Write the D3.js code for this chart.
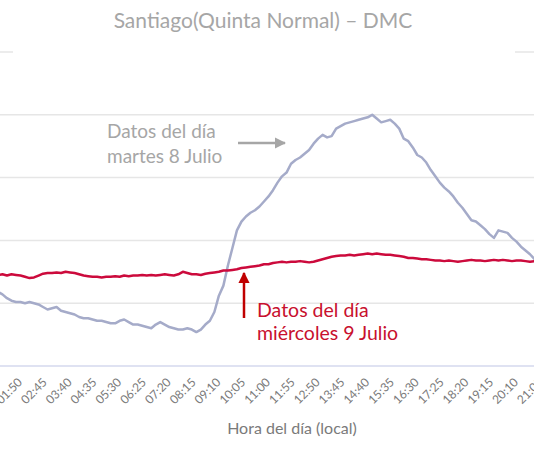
<!DOCTYPE html>
<html>
<head>
<meta charset="utf-8">
<script src="https://cdn.jsdelivr.net/npm/d3@7"></script>
<style>
  body { margin: 0; background: #fff; }
  svg { display: block; font-family: Lato, "Open Sans", sans-serif; }
</style>
</head>
<body>
<svg width="534" height="458"></svg>
<script>
// 10-minute samples starting at 00:00
const stepMin = 10;

const martes8 = [
    6.3, 6.2, 6.2, 6.0, 6.0, 5.9, 5.7, 5.4, 5.2, 5.1,
    5.1, 5.0, 5.1, 5.0, 4.9, 4.7, 4.5, 4.6, 4.7, 4.4,
    4.3, 4.2, 4.1, 3.9, 3.8, 3.8, 3.7, 3.6, 3.6, 3.5,
    3.4, 3.4, 3.6, 3.7, 3.5, 3.3, 3.3, 3.2, 3.1, 3.0,
    3.3, 3.5, 3.3, 3.1, 3.0, 2.9, 2.9, 3.0, 2.9, 2.7,
    2.9, 3.3, 3.6, 4.3, 5.6, 6.4, 8.0, 9.4, 10.8, 11.5,
    11.9, 12.2, 12.4, 12.7, 13.1, 13.5, 14.0, 14.6, 15.1, 15.4,
    16.1, 16.4, 16.6, 16.9, 17.2, 17.7, 18.1, 18.4, 18.2, 18.3,
    18.9, 19.1, 19.3, 19.4, 19.5, 19.6, 19.7, 19.8, 20.0, 19.7,
    19.4, 19.5, 19.6, 19.3, 18.9, 18.1, 17.9, 17.4, 16.8, 16.6,
    16.2, 15.6, 15.1, 14.6, 14.2, 13.9, 13.5, 13.0, 12.6, 12.1,
    11.6, 11.5, 11.2, 10.9, 10.5, 10.2, 10.8, 10.7, 10.6, 10.2,
    9.9, 9.5, 9.2, 8.9, 8.5, 8.2, 7.9, 7.7, 7.5
];

const miercoles9 = [
    7.3, 7.3, 7.2, 7.3, 7.2, 7.25, 7.3, 7.2, 7.3, 7.25,
    7.2, 7.1, 7.0, 7.05, 7.2, 7.35, 7.4, 7.4, 7.45, 7.4,
    7.5, 7.45, 7.4, 7.3, 7.2, 7.15, 7.1, 7.1, 7.05, 7.1,
    7.1, 7.15, 7.1, 7.2, 7.15, 7.2, 7.2, 7.25, 7.2, 7.25,
    7.2, 7.25, 7.3, 7.25, 7.2, 7.3, 7.5, 7.4, 7.3, 7.3,
    7.25, 7.35, 7.4, 7.45, 7.5, 7.6, 7.6, 7.65, 7.7, 7.8,
    7.85, 7.9, 7.95, 8.0, 8.1, 8.1, 8.2, 8.25, 8.3, 8.25,
    8.3, 8.3, 8.35, 8.3, 8.25, 8.3, 8.4, 8.5, 8.6, 8.7,
    8.75, 8.8, 8.8, 8.85, 8.8, 8.85, 8.9, 8.95, 8.9, 8.95,
    8.9, 8.85, 8.85, 8.8, 8.75, 8.7, 8.6, 8.6, 8.55, 8.5,
    8.5, 8.45, 8.4, 8.4, 8.35, 8.4, 8.35, 8.3, 8.35, 8.4,
    8.45, 8.4, 8.4, 8.35, 8.4, 8.45, 8.4, 8.45, 8.4, 8.35,
    8.4, 8.4, 8.35, 8.3, 8.35, 8.4, 8.35, 8.3, 8.3
];

const tickLabels = [
    '00:00', '00:55', '01:50', '02:45', '03:40', '04:35', '05:30', '06:25',
    '07:20', '08:15', '09:10', '10:05', '11:00', '11:55', '12:50', '13:45',
    '14:40', '15:35', '16:30', '17:25', '18:20', '19:15', '20:10', '21:05',
    '22:00', '22:55', '23:50'
];

const gridValues = [0, 5, 10, 15, 20, 25];

const svg = d3.select('svg');
const width = +svg.attr('width');
const height = +svg.attr('height');

const toMin = s => {
    const [h, m] = s.split(':');
    return +h * 60 + +m;
};

// the chart is cropped: the plot area runs past both sides of the picture
const x = d3.scaleLinear().domain([0, 1440]).range([-24.6, 624.7]);
const y = d3.scaleLinear().domain([0, 25]).range([366, 52]);

// gridlines
svg.append('g')
    .selectAll('line')
    .data(gridValues.filter(v => v > 0))
    .enter().append('line')
    .attr('x1', 0)
    .attr('x2', width)
    .attr('y1', d => y(d))
    .attr('y2', d => y(d))
    .attr('stroke', '#e6e6e6')
    .attr('stroke-width', 1.5);

// title box hides the top gridline
svg.append('rect')
    .attr('x', 13).attr('y', 0)
    .attr('width', 502).attr('height', 58)
    .attr('fill', '#fff');

svg.append('text')
    .attr('x', 263)
    .attr('y', 28)
    .attr('text-anchor', 'middle')
    .attr('fill', '#a6a6a6')
    .attr('font-size', 21)
    .text('Santiago(Quinta Normal) – DMC');

// x axis line
svg.append('line')
    .attr('x1', 0).attr('x2', width)
    .attr('y1', y(0)).attr('y2', y(0))
    .attr('stroke', '#dfe2f2')
    .attr('stroke-width', 2);

svg.append('g')
    .selectAll('text')
    .data(tickLabels)
    .enter().append('text')
    .attr('transform', d => `translate(${x(toMin(d)) - 2},${y(0) + 17}) rotate(-45)`)
    .attr('text-anchor', 'end')
    .attr('fill', '#7a7a7a')
    .attr('font-size', 12)
    .text(d => d);

svg.append('text')
    .attr('x', 292)
    .attr('y', 434)
    .attr('text-anchor', 'middle')
    .attr('fill', '#7a7a7a')
    .attr('font-size', 16)
    .text('Hora del día (local)');

// series
const line = d3.line()
    .x((d, i) => x(i * stepMin))
    .y(d => y(d));

svg.append('path')
    .datum(martes8)
    .attr('d', line)
    .attr('fill', 'none')
    .attr('stroke', '#a5abc9')
    .attr('stroke-width', 2.5)
    .attr('stroke-linejoin', 'round');

svg.append('path')
    .datum(miercoles9)
    .attr('d', line)
    .attr('fill', 'none')
    .attr('stroke', '#cc0a3c')
    .attr('stroke-width', 2.5)
    .attr('stroke-linejoin', 'round');

// annotations
const defs = svg.append('defs');
[['head-gray', '#a6a6a6'], ['head-red', '#c00000']].forEach(([id, c]) => {
    defs.append('marker')
        .attr('id', id)
        .attr('viewBox', '0 0 10 10')
        .attr('refX', 9).attr('refY', 5)
        .attr('markerWidth', 4.5).attr('markerHeight', 4.5)
        .attr('orient', 'auto')
        .append('path')
        .attr('d', 'M0,0L10,5L0,10Z')
        .attr('fill', c);
});

svg.append('line')
    .attr('x1', 238).attr('y1', 143)
    .attr('x2', 285).attr('y2', 143)
    .attr('stroke', '#a6a6a6')
    .attr('stroke-width', 2.5)
    .attr('marker-end', 'url(#head-gray)');

svg.append('text')
    .attr('fill', '#a6a6a6')
    .attr('font-size', 19)
    .selectAll('tspan')
    .data(['Datos del día', 'martes 8 Julio'])
    .enter().append('tspan')
    .attr('x', 107)
    .attr('y', (d, i) => 138 + i * 25)
    .text(d => d);

svg.append('line')
    .attr('x1', 244).attr('y1', 318)
    .attr('x2', 244).attr('y2', 273)
    .attr('stroke', '#c00000')
    .attr('stroke-width', 2.5)
    .attr('marker-end', 'url(#head-red)');

svg.append('text')
    .attr('fill', '#c8102e')
    .attr('font-size', 19.5)
    .selectAll('tspan')
    .data(['Datos del día', 'miércoles 9 Julio'])
    .enter().append('tspan')
    .attr('x', 257)
    .attr('y', (d, i) => 317 + i * 23)
    .text(d => d);
</script>
</body>
</html>
